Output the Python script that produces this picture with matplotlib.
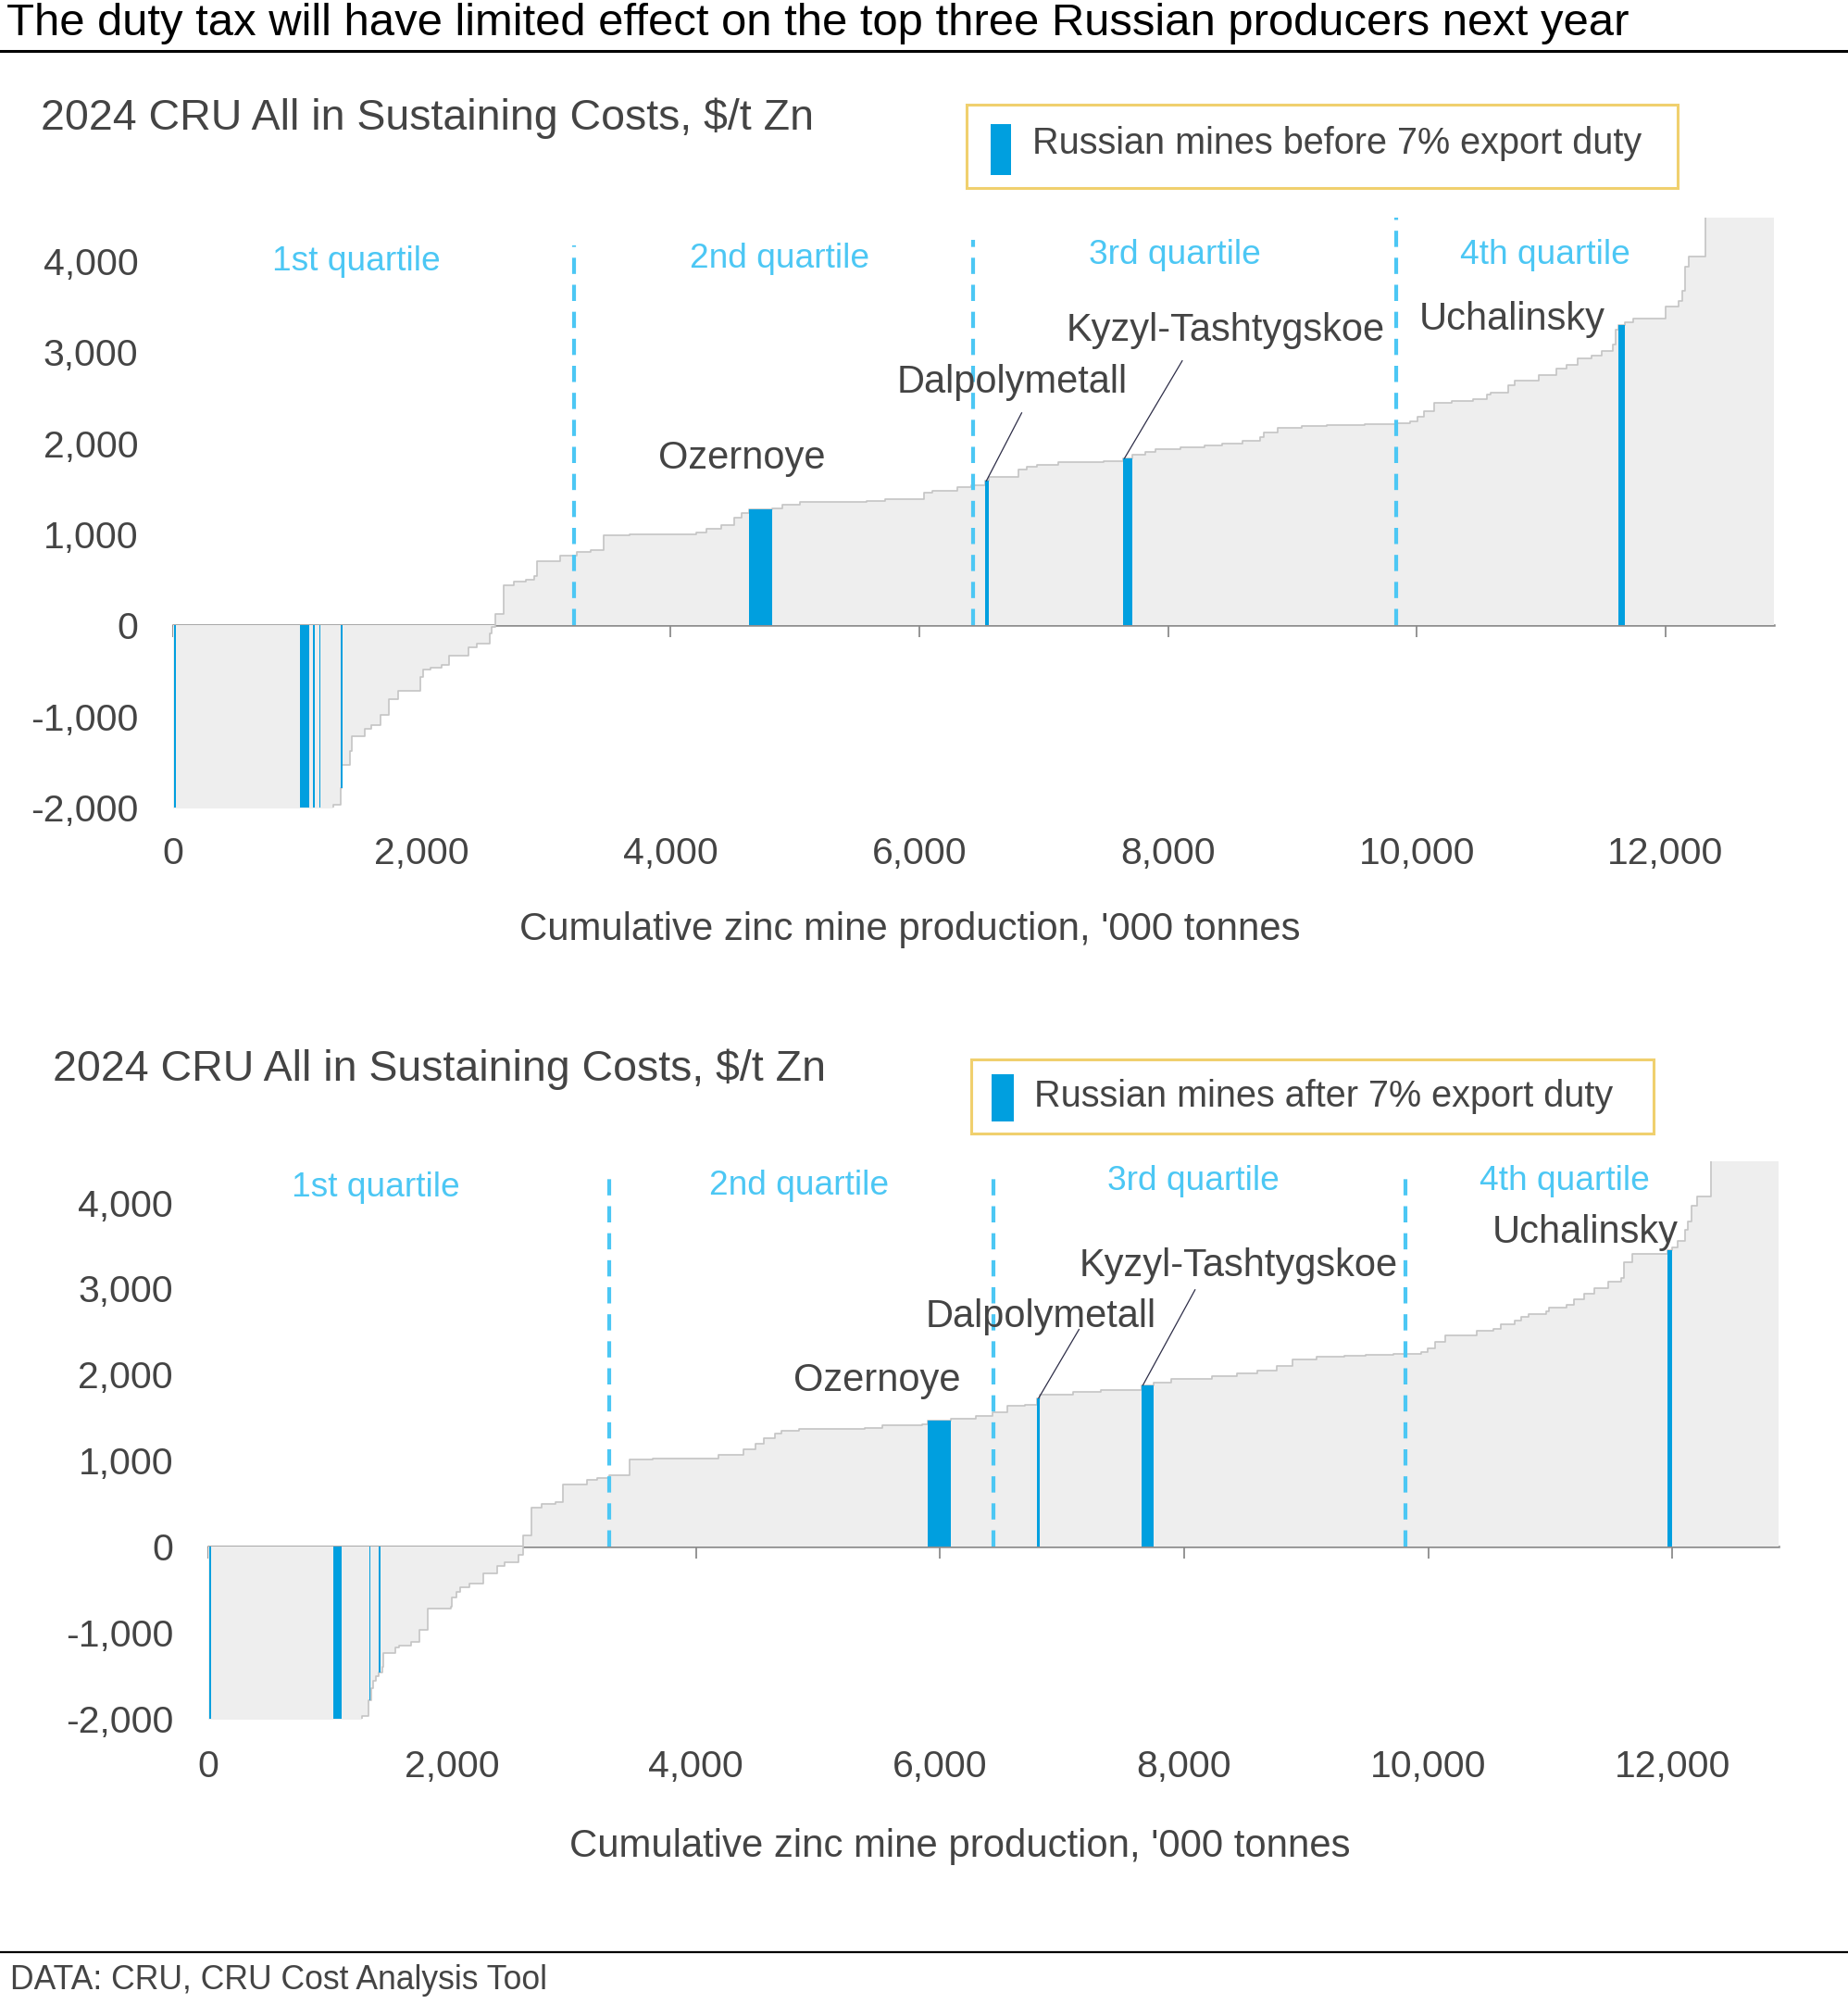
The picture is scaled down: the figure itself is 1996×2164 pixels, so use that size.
import matplotlib
matplotlib.use("Agg")
import matplotlib.pyplot as plt
from matplotlib.patches import Rectangle

plt.rcParams['font.family'] = ['Liberation Sans', 'DejaVu Sans']

W, H = 1996, 2164  # output size in pixels (dpi 100)

# ---------------------------------------------------------------------
# data : cost curve = start of each step (cumulative '000 t) and AISC ($/t Zn)

before_x = [0, 1290, 1347, 1357, 1423, 1440, 1540, 1590, 1667, 1733, 1807, 1990,
            2007, 2073, 2157, 2217, 2373, 2440, 2547, 2563, 2590, 2657, 2740, 2840,
            2907, 2923, 3113, 3247, 3357, 3463, 3673, 4207, 4290, 4407, 4513, 4573,
            4630, 4820, 4902, 5042, 5575, 5726, 6034, 6107, 6304, 6416, 6528, 6556,
            6797, 6864, 6948, 7116, 7481, 7638, 7716, 7817, 7901, 8097, 8293, 8433,
            8602, 8742, 8770, 8882, 9078, 9274, 9582, 9835, 9947, 10003, 10059, 10143,
            10283, 10451, 10563, 10591, 10732, 10788, 10983, 11124, 11208, 11292, 11404, 11488,
            11573, 11600, 11623, 11673, 11740, 12004, 12105, 12133, 12161, 12189, 12318]
before_cost = [-2600, -1970, -1790, -1530, -1375, -1220, -1135, -1090, -980, -810, -720, -570,
               -480, -460, -437, -330, -240, -197, -87, -20, 130, 437, 480, 502,
               545, 707, 764, 808, 830, 995, 1004, 1026, 1060, 1105, 1179, 1231,
               1280, 1290, 1322, 1352, 1366, 1388, 1454, 1476, 1520, 1542, 1586, 1630,
               1718, 1740, 1762, 1793, 1806, 1837, 1872, 1905, 1938, 1960, 1982, 2000,
               2026, 2070, 2115, 2172, 2194, 2203, 2216, 2225, 2247, 2290, 2357, 2445,
               2467, 2489, 2533, 2555, 2643, 2687, 2753, 2819, 2863, 2930, 2960, 3018,
               3084, 3250, 3304, 3326, 3370, 3502, 3568, 3678, 3943, 4053, 5000]
before_end = 12872

after_x = [0, 1261, 1312, 1336, 1352, 1379, 1396, 1430, 1440, 1532, 1565, 1667,
           1734, 1802, 1988, 1998, 2039, 2066, 2140, 2258, 2370, 2428, 2546, 2580,
           2654, 2732, 2850, 2911, 3104, 3188, 3290, 3452, 3645, 4186, 4389, 4490,
           4558, 4645, 4702, 4844, 5385, 5527, 5852, 5897, 6085, 6296, 6430, 6552,
           6694, 6797, 6819, 7093, 7320, 7651, 7747, 7890, 8231, 8431, 8601, 8755,
           8886, 9085, 9313, 9484, 9711, 9939, 9996, 10053, 10138, 10395, 10537, 10594,
           10708, 10765, 10822, 10964, 10992, 11135, 11192, 11277, 11362, 11476, 11579, 11601,
           11676, 11960, 12000, 12046, 12102, 12131, 12160, 12205, 12319]
after_cost = [-2600, -1970, -1785, -1650, -1560, -1510, -1465, -1395, -1240, -1170, -1150, -1110,
              -970, -720, -700, -590, -520, -475, -430, -315, -225, -180, -90, 135,
              450, 495, 520, 720, 775, 800, 835, 1015, 1030, 1063, 1130, 1200,
              1257, 1312, 1348, 1366, 1380, 1412, 1425, 1470, 1484, 1516, 1561, 1638,
              1652, 1729, 1765, 1801, 1819, 1878, 1910, 1955, 1982, 2014, 2045, 2104,
              2172, 2204, 2217, 2231, 2240, 2262, 2308, 2376, 2452, 2511, 2534, 2588,
              2624, 2670, 2706, 2738, 2783, 2814, 2873, 2941, 3009, 3077, 3122, 3312,
              3403, 3448, 3484, 3552, 3688, 3778, 3959, 4072, 5000]
after_end = 12871

# Russian mines (start, width, cost)
before_ru_x = [8, 1023, 1124, 1174, 1347, 4630, 6528, 7638, 11623]
before_ru_w = [14, 74, 12, 12, 12, 190, 28, 78, 50]
before_ru_cost = [-2600, -2600, -2600, -2600, -1790, 1280, 1586, 1837, 3304]

after_ru_x = [14, 1024, 1320, 1400, 5897, 6797, 7651, 11960]
after_ru_w = [12, 71, 12, 16, 188, 22, 96, 40]
after_ru_cost = [-2600, -2600, -1785, -1465, 1470, 1729, 1878, 3448]

quartiles = ['1st quartile', '2nd quartile', '3rd quartile', '4th quartile']
before_q_x = [3227, 6432, 9835]
after_q_x = [3286, 6438, 9814]

mines = ['Ozernoye', 'Dalpolymetall', 'Kyzyl-Tashtygskoe', 'Uchalinsky']

y_ticks = [-2000, -1000, 0, 1000, 2000, 3000, 4000]
x_ticks = [0, 2000, 4000, 6000, 8000, 10000, 12000]

# ---------------------------------------------------------------------
# colours
GREY_TXT = '#444444'
BLUE = '#009FDF'
LIGHT_BLUE = '#4CC7F4'
FILL = '#EEEEEE'
EDGE = '#C4C4C4'
AXIS = '#8C8C8C'
GOLD = '#F0D06E'


def fx(px):
    return px / W


def fy(py):
    return 1 - py / H


def draw_panel(ax, xs, costs, x_end, ru_x, ru_w, ru_cost, q_x, q_top, q_lab, m_lab, leaders, xpad):
    ymin, ymax = -2000, 4480
    edges = xs + [x_end]
    vals = costs + [costs[-1]]

    # cost curve
    ax.fill_between(edges, vals, 0, step='post', color=FILL, lw=0)
    ax.step(edges, vals, where='post', color=EDGE, lw=1.2)

    # russian mines
    ax.bar(ru_x, ru_cost, width=ru_w, align='edge', color=BLUE, lw=0, zorder=3)

    # quartile lines and labels
    ax.vlines(q_x, 0, q_top, colors=LIGHT_BLUE, lw=3, linestyles=(0, (4.2, 2.8)), zorder=4)
    for name, (lx, ly) in zip(quartiles, q_lab):
        ax.text(lx, ly, name, color=LIGHT_BLUE, fontsize=26.7, ha='center', va='center')

    # mine names
    for name, (lx, ly) in zip(mines, m_lab):
        ax.text(lx, ly - 35, name, color=GREY_TXT, fontsize=30, ha='center', va='center', zorder=5)
    for (x1, y1, x2, y2) in leaders:
        ax.plot([x1, x2], [y1, y2], color='#2E2E48', lw=0.9, zorder=5)

    ax.set_xlim(0, x_end)
    ax.set_ylim(ymin, ymax)
    for s in ax.spines.values():
        s.set_visible(False)

    ax.set_yticks(y_ticks)
    ax.set_yticklabels([f'{v:,}' for v in y_ticks])
    ax.set_xticks(x_ticks)
    ax.set_xticklabels([f'{v:,}' for v in x_ticks])
    ax.tick_params(length=0, labelsize=29.5, labelcolor=GREY_TXT)
    ax.tick_params(axis='y', pad=27)
    ax.tick_params(axis='x', pad=xpad)

    # zero line with tick marks
    zero = (0 - ymin) / (ymax - ymin)
    sec = ax.secondary_xaxis(zero)
    sec.set_xticks(x_ticks)
    sec.tick_params(direction='out', length=9.5, width=1.3, color=AXIS, labelbottom=False, labeltop=False)
    for s in sec.spines.values():
        s.set_color(AXIS)
        s.set_linewidth(1.8)

    ax.set_xlabel("Cumulative zinc mine production, '000 tonnes", fontsize=30.2, color=GREY_TXT)
    ax.xaxis.label.set_va('center')


fig = plt.figure(figsize=(W / 100, H / 100), dpi=100)

# title and rules
fig.text(fx(7), fy(26), 'The duty tax will have limited effect on the top three Russian producers next year',
         fontsize=35.3, color='black', ha='left', va='center')
fig.add_artist(plt.Line2D([0, 1], [fy(55), fy(55)], color='black', lw=2.2))
fig.add_artist(plt.Line2D([0, 1], [fy(2108), fy(2108)], color='black', lw=1.6))
fig.text(fx(11), fy(2138), 'DATA: CRU, CRU Cost Analysis Tool', fontsize=25.6, color=GREY_TXT, ha='left', va='center')

# top panel - before duty
ax1 = fig.add_axes([fx(187), fy(872), fx(1916) - fx(187), (872 - 235) / H])
draw_panel(ax1, before_x, before_cost, before_end, before_ru_x, before_ru_w, before_ru_cost,
           before_q_x, [4170, 4240, 4490],
           [(1474, 4000), (4876, 4030), (8055, 4070), (11032, 4070)],
           [(4571, 1872), (6745, 2706), (8464, 3276), (10765, 3398)],
           [(6823, 2335, 6540, 1590), (8114, 2907, 7650, 1837)], xpad=22)
ax1.xaxis.set_label_coords((983 - 187) / (1916 - 187), 1 - (1004 - 235) / (872 - 235))

# bottom panel - after duty
ax2 = fig.add_axes([fx(224.6), fy(1856), fx(1921) - fx(224.6), (1856 - 1254) / H])
draw_panel(ax2, after_x, after_cost, after_end, after_ru_x, after_ru_w, after_ru_cost,
           after_q_x, [4370, 4390, 4390],
           [(1376, 4176), (4844, 4198), (8076, 4252), (11118, 4252)],
           [(5481, 1959), (6823, 2702), (8446, 3294), (11285, 3681)],
           [(7138, 2525, 6808, 1729), (8089, 2986, 7662, 1878)], xpad=24)
ax2.xaxis.set_label_coords((1037 - 224.6) / (1921 - 224.6), 1 - (1994 - 1254) / (1856 - 1254))

# subtitles
fig.text(fx(44), fy(128), '2024 CRU All in Sustaining Costs, $/t Zn', fontsize=33.5, color=GREY_TXT, ha='left', va='center')
fig.text(fx(57), fy(1155), '2024 CRU All in Sustaining Costs, $/t Zn', fontsize=33.5, color=GREY_TXT, ha='left', va='center')

# legend boxes
for (x0, y0, x1, y1), (px0, py0, px1, py1), (tx, ty), txt in [
        ((1044, 113, 1812, 203), (1070, 134, 1092, 189), (1115, 155), 'Russian mines before 7% export duty'),
        ((1049, 1144, 1786, 1224), (1071, 1160, 1095, 1211), (1117, 1184), 'Russian mines after 7% export duty')]:
    fig.add_artist(Rectangle((fx(x0), fy(y1)), fx(x1) - fx(x0), (y1 - y0) / H,
                             transform=fig.transFigure, fill=False, edgecolor=GOLD, lw=2.2))
    fig.add_artist(Rectangle((fx(px0), fy(py1)), fx(px1) - fx(px0), (py1 - py0) / H,
                             transform=fig.transFigure, facecolor=BLUE, lw=0))
    fig.text(fx(tx), fy(ty), txt, fontsize=28.5, color=GREY_TXT, ha='left', va='center')

fig.savefig('out.png', dpi=100)
